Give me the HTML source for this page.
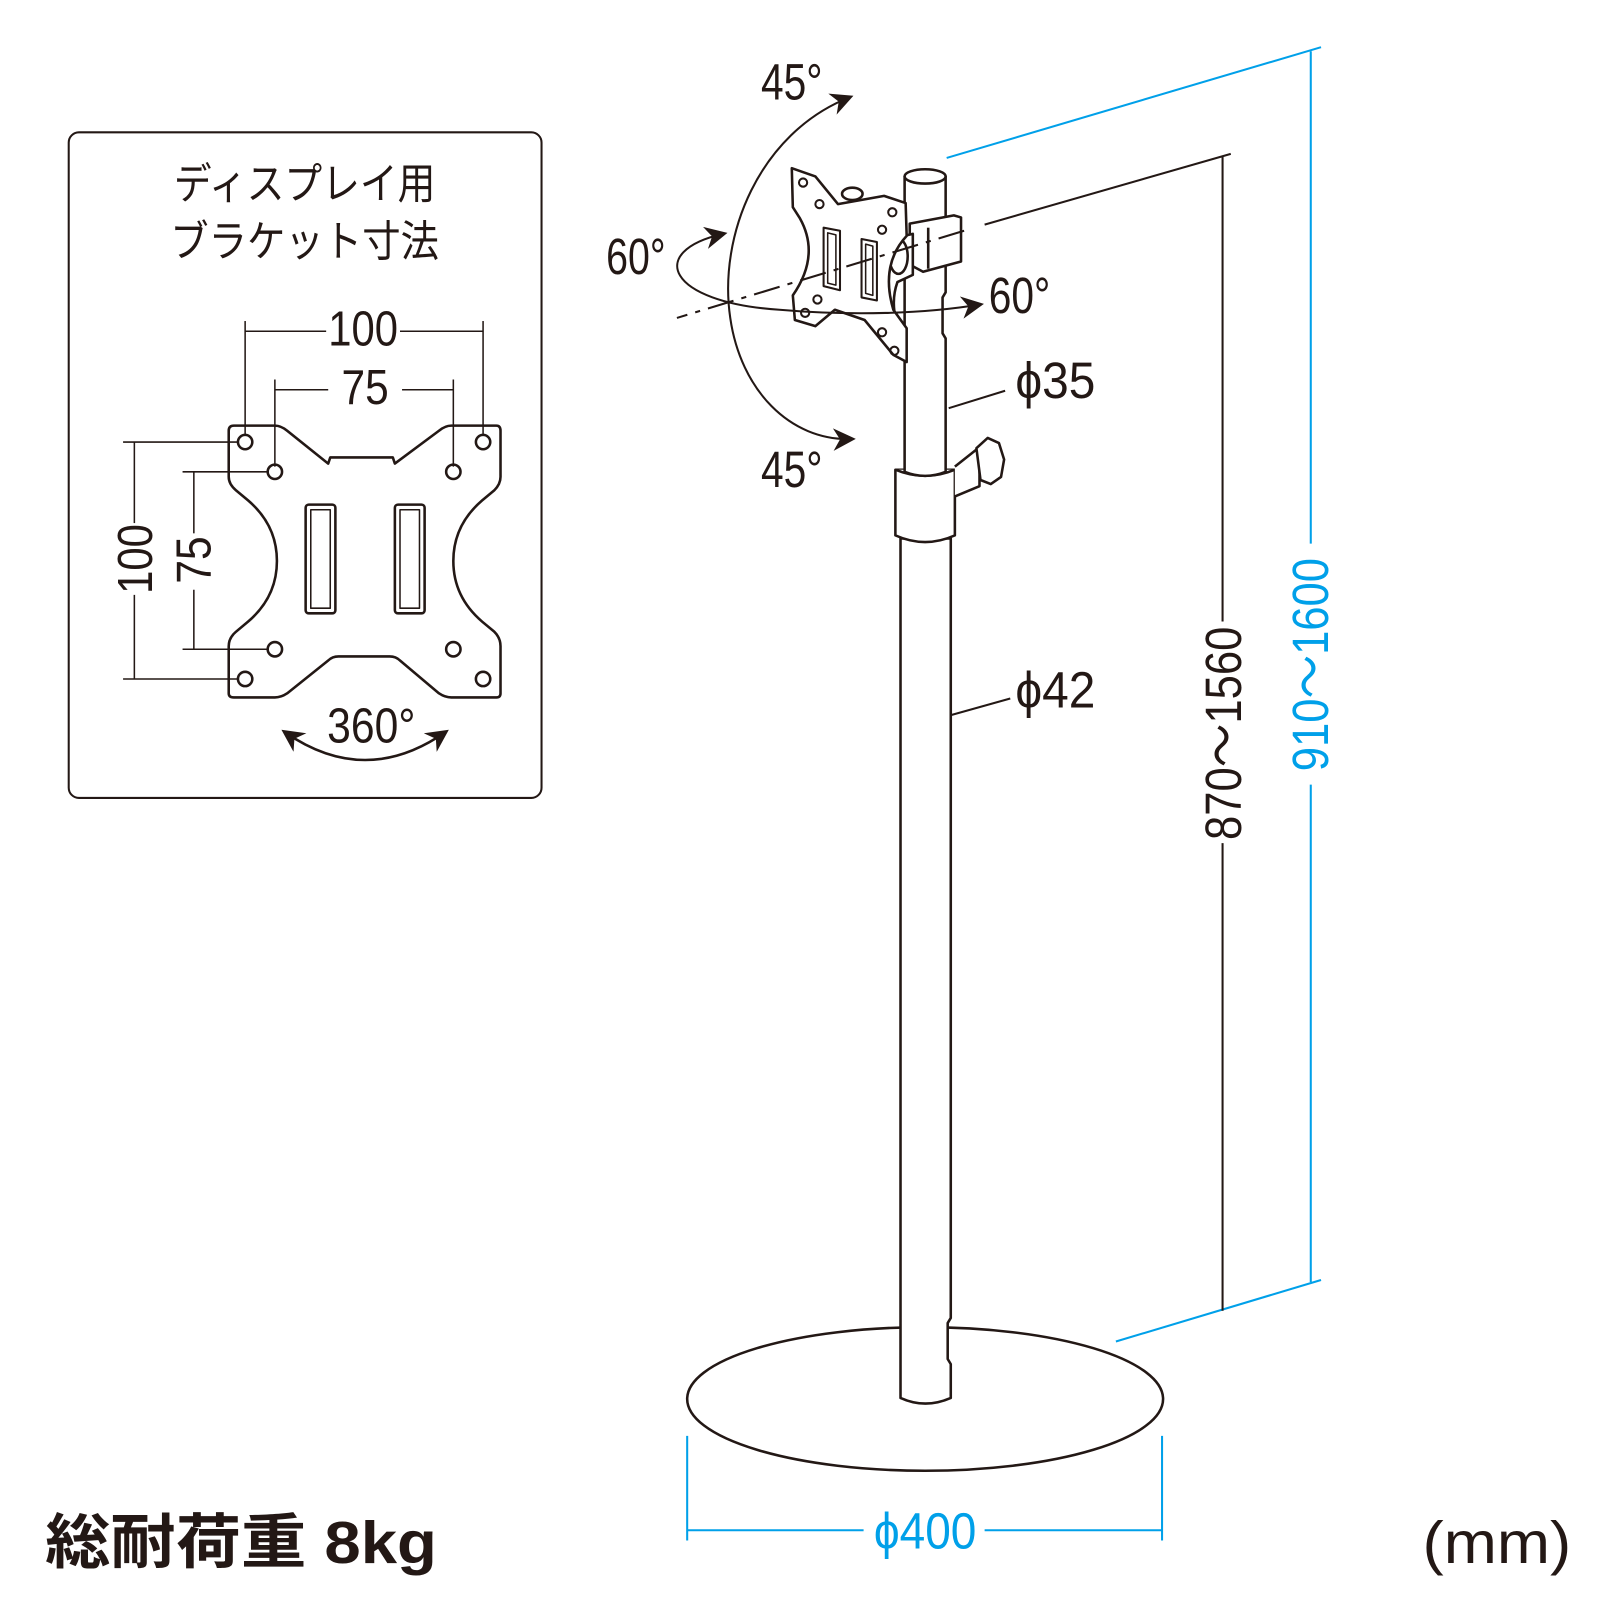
<!DOCTYPE html>
<html><head><meta charset="utf-8"><style>
html,body{margin:0;padding:0;background:#fff}
svg{display:block}
text{font-family:"Liberation Sans","Noto Sans CJK JP",sans-serif}
</style></head><body>
<svg width="1600" height="1600" viewBox="0 0 1560 1560" xmlns="http://www.w3.org/2000/svg">
<defs>
<marker id="ah2" viewBox="0 0 10 10" refX="8" refY="5" markerWidth="22" markerHeight="22" orient="auto-start-reverse" markerUnits="userSpaceOnUse">
<path d="M0,0 L10,5 L0,10 L3,5 Z" fill="#231815"/>
</marker>
</defs>
<g fill="none" stroke="#231815" stroke-width="2" stroke-linejoin="round">
<rect x="67" y="129" width="461" height="649" rx="10"/>
</g>
<text x="297" y="194" font-size="42" text-anchor="middle" fill="#231815" textLength="255" lengthAdjust="spacingAndGlyphs">ディスプレイ用</text>
<text x="297" y="250" font-size="42" text-anchor="middle" fill="#231815" textLength="262" lengthAdjust="spacingAndGlyphs">ブラケット寸法</text>

<g fill="none" stroke="#231815" stroke-width="1.5">
<line x1="239" y1="313" x2="239" y2="425"/><line x1="471" y1="313" x2="471" y2="425"/>
<line x1="239" y1="323" x2="318" y2="323"/><line x1="390" y1="323" x2="471" y2="323"/>
<line x1="268" y1="370" x2="268" y2="455"/><line x1="442" y1="370" x2="442" y2="455"/>
<line x1="268" y1="380" x2="320" y2="380"/><line x1="392" y1="380" x2="442" y2="380"/>
<line x1="120" y1="431" x2="233" y2="431"/><line x1="120" y1="662" x2="233" y2="662"/>
<line x1="131" y1="431" x2="131" y2="510"/><line x1="131" y1="580" x2="131" y2="662"/>
<line x1="178" y1="460" x2="262" y2="460"/><line x1="178" y1="633" x2="262" y2="633"/>
<line x1="189" y1="460" x2="189" y2="520"/><line x1="189" y1="575" x2="189" y2="633"/>
</g>
<g fill="#231815">
<text x="354" y="337" font-size="48" text-anchor="middle" textLength="68" lengthAdjust="spacingAndGlyphs">100</text>
<text x="356" y="394" font-size="48" text-anchor="middle" textLength="46" lengthAdjust="spacingAndGlyphs">75</text>
<text transform="translate(148,545) rotate(-90)" font-size="48" text-anchor="middle" textLength="68" lengthAdjust="spacingAndGlyphs">100</text>
<text transform="translate(205,546) rotate(-90)" font-size="48" text-anchor="middle" textLength="46" lengthAdjust="spacingAndGlyphs">75</text>
<text x="362" y="724" font-size="48" text-anchor="middle" textLength="86" lengthAdjust="spacingAndGlyphs">360°</text>
</g>
<g fill="none" stroke="#231815" stroke-width="2.5" stroke-linejoin="round">
<path d="M228,415 L268,415 Q274,415 280,420 L320,452 L322,446 L383,446 L385,452 L428,420 Q434,415 440,415 L484,415 Q488,415 488,420 L488,465 Q488,472 482,478 L470,488 Q442,512 442,547 Q442,582 470,606 L482,616 Q488,622 488,630 L488,676 Q488,680 484,680 L440,680 Q434,680 428,676 L390,644 Q386,640 380,640 L330,640 Q324,640 320,644 L280,676 Q274,680 268,680 L228,680 Q223,680 223,676 L223,630 Q223,622 230,616 L242,606 Q270,582 270,547 Q270,512 242,488 L230,478 Q223,472 223,465 L223,420 Q223,415 228,415 Z"/>
<rect x="298" y="492" width="29" height="106" rx="3"/>
<rect x="385" y="492" width="29" height="106" rx="3"/>
<path d="M303,497 L322,497 L322,593 L303,593 Z" stroke-width="1.5"/>
<path d="M390,497 L409,497 L409,593 L390,593 Z" stroke-width="1.5"/>
<circle cx="239" cy="431" r="7"/><circle cx="471" cy="431" r="7"/>
<circle cx="268" cy="460" r="7"/><circle cx="442" cy="460" r="7"/>
<circle cx="268" cy="633" r="7"/><circle cx="442" cy="633" r="7"/>
<circle cx="239" cy="662" r="7"/><circle cx="471" cy="662" r="7"/>
<path d="M278,714 Q356,768 434,714" marker-start="url(#ah2)" marker-end="url(#ah2)"/>
</g>

<g fill="none" stroke="#00a0e9" stroke-width="2">
<line x1="923" y1="154" x2="1288" y2="46"/>
<line x1="1278" y1="50" x2="1278" y2="530"/>
<line x1="1278" y1="765" x2="1278" y2="1250"/>
<line x1="1088" y1="1308" x2="1288" y2="1248"/>
<line x1="670" y1="1400" x2="670" y2="1502"/>
<line x1="1133" y1="1400" x2="1133" y2="1502"/>
<line x1="670" y1="1492" x2="842" y2="1492"/>
<line x1="960" y1="1492" x2="1133" y2="1492"/>
</g>
<text transform="translate(1295,648) rotate(-90)" font-size="50" text-anchor="middle" fill="#00a0e9" textLength="208" lengthAdjust="spacingAndGlyphs">910～1600</text>
<text x="902" y="1510" font-size="50" text-anchor="middle" fill="#00a0e9" textLength="100" lengthAdjust="spacingAndGlyphs">ϕ400</text>

<g fill="none" stroke="#231815" stroke-width="2">
<line x1="1200" y1="150" x2="960" y2="219"/>
<line x1="1192" y1="152" x2="1192" y2="606"/>
<line x1="1192" y1="822" x2="1192" y2="1278"/>
</g>
<text transform="translate(1210,715) rotate(-90)" font-size="50" text-anchor="middle" fill="#231815" textLength="208" lengthAdjust="spacingAndGlyphs">870～1560</text>

<g fill="#fff" stroke="#231815" stroke-width="2.5" stroke-linejoin="round">
<ellipse cx="902" cy="1364" rx="232" ry="70"/>
<path d="M878,525 L878,1363 Q902,1374 927,1363 L927,1330 L924,1325 L924,1290 L927,1285 L927,525 Z"/>
<path d="M873,458 L873,522 Q902,535 931,522 L931,458 Z"/>
<path d="M873,458 Q902,470 931,458"/>
<path d="M931,455 L955,436 L955,474 L931,484"/>
<path d="M952,437 L963,427 L974,432 L979,448 L976,465 L966,472 L956,468 Z"/>
<path d="M882,172 L882,460 Q902,468 922,460 L922,330 L919,325 L919,290 L922,285 L922,172 Z"/>
<ellipse cx="902" cy="172" rx="20" ry="7"/>
<path d="M887,218 L930,210 L937,212 L937,255 L900,265 L887,258 Z"/>
<path d="M905,222 L905,262" fill="none"/>
<!-- pivot arm -->
<path d="M862,270 Q858,245 872,232 L890,228 L890,268 L875,275 Q866,300 880,330 L870,335 Q852,300 862,270 Z"/>
<ellipse cx="876" cy="250" rx="9" ry="17"/>
<ellipse cx="831" cy="189" rx="10" ry="6"/>
<!-- plate -->
<path d="M772,164 L795,172 L817,199 L862,191 L883,198 L884,230 Q858,258 871,302 L884,320 L884,353 L871,346 L843,312 L814,302 L795,318 L775,312 L773,288 Q800,249 780,213 L773,202 Z"/>
</g>
<g fill="none" stroke="#231815" stroke-width="2" stroke-linejoin="round">
<path d="M803,222 L819,225 L819,283 L803,279 Z"/>
<path d="M807,227 L815,229 L815,278 L807,276 Z" stroke-width="1.5"/>
<path d="M840,233 L855,236 L855,293 L840,290 Z"/>
<path d="M844,238 L851,240 L851,288 L844,286 Z" stroke-width="1.5"/>
<circle cx="783" cy="178" r="4"/><circle cx="799" cy="199" r="4"/>
<circle cx="870" cy="207" r="4"/><circle cx="860" cy="224" r="4"/>
<circle cx="797" cy="292" r="4"/><circle cx="785" cy="305" r="4"/>
<circle cx="860" cy="324" r="4"/><circle cx="872" cy="342" r="4"/>
<line x1="940" y1="225" x2="660" y2="310" stroke-dasharray="26,8,5,8"/>
<path d="M828,95 C740,130 700,230 712,310 C722,380 770,430 830,428" marker-start="url(#ah2)" marker-end="url(#ah2)"/>
<path d="M705,228 C630,245 650,295 760,302 C830,308 900,306 955,297" marker-start="url(#ah2)" marker-end="url(#ah2)"/>
<line x1="925" y1="398" x2="980" y2="381"/>
<line x1="928" y1="697" x2="985" y2="681"/>
</g>
<g fill="#231815">
<text x="772" y="97" font-size="50" text-anchor="middle" textLength="60" lengthAdjust="spacingAndGlyphs">45°</text>
<text x="772" y="475" font-size="50" text-anchor="middle" textLength="60" lengthAdjust="spacingAndGlyphs">45°</text>
<text x="620" y="267" font-size="50" text-anchor="middle" textLength="58" lengthAdjust="spacingAndGlyphs">60°</text>
<text x="994" y="305" font-size="50" text-anchor="middle" textLength="60" lengthAdjust="spacingAndGlyphs">60°</text>
<text x="990" y="388" font-size="50" textLength="78" lengthAdjust="spacingAndGlyphs">ϕ35</text>
<text x="990" y="690" font-size="50" textLength="78" lengthAdjust="spacingAndGlyphs">ϕ42</text>
<text x="44" y="1524" font-size="58" font-weight="bold" textLength="382" lengthAdjust="spacingAndGlyphs">総耐荷重 8kg</text>
<text x="1387" y="1524" font-size="58" textLength="145" lengthAdjust="spacingAndGlyphs">(mm)</text>
</g>
</svg>
</body></html>
